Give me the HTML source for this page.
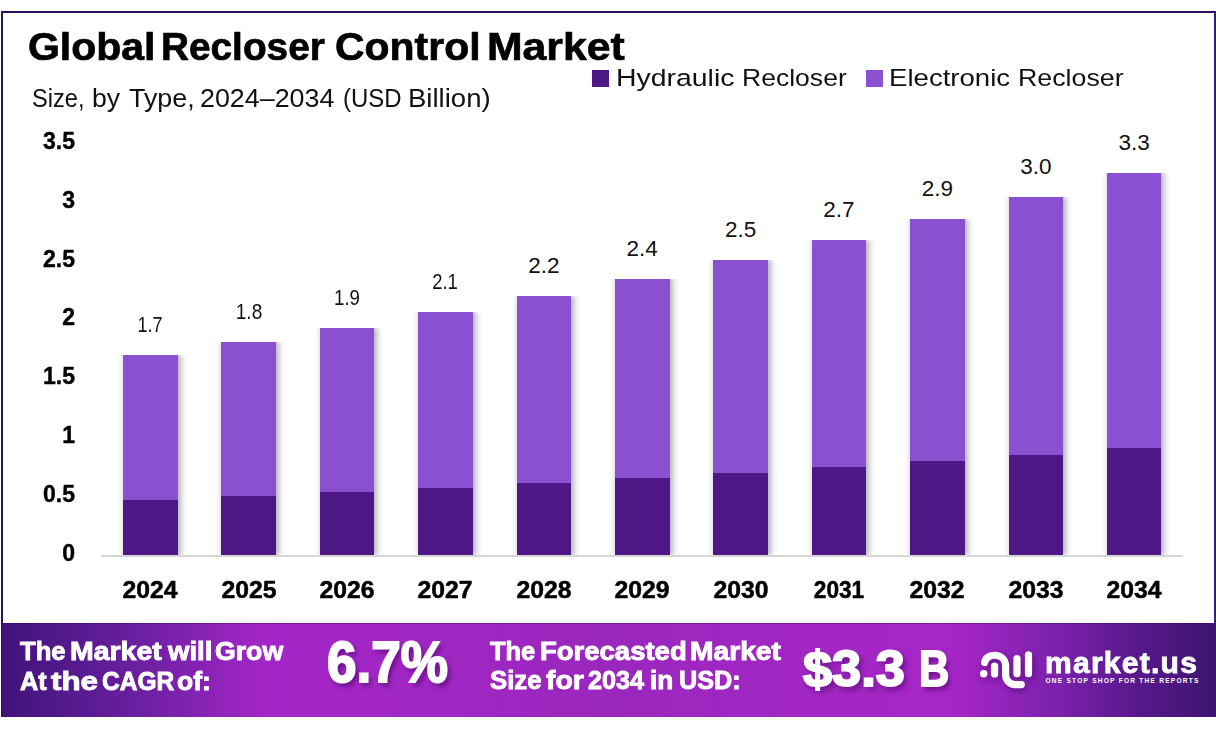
<!DOCTYPE html>
<html><head><meta charset="utf-8">
<style>
html,body{margin:0;padding:0;background:#fff;}
body{width:1216px;height:732px;position:relative;overflow:hidden;font-family:"Liberation Sans",sans-serif;}
.t,.tc,.tr{position:absolute;white-space:nowrap;}
.t{transform-origin:0 0;}
.tc{width:200px;text-align:center;transform-origin:50% 0;}
.tr{width:200px;text-align:right;transform-origin:100% 0;}
.logo{position:absolute;left:0;top:0;}
.frame{position:absolute;left:1px;top:11px;width:1215px;height:706px;border:2px solid #2c1060;border-right-color:#45168a;border-bottom:none;box-sizing:border-box;}
.sq{position:absolute;top:70px;width:17px;height:17px;}
.bar{position:absolute;background:#8b50d0;box-shadow:1.5px 0 6px 1px rgba(70,60,90,0.42);clip-path:inset(0 -12px 0 -12px);}
.dk{position:absolute;left:0;bottom:0;width:100%;background:#4e1786;}
.axis{position:absolute;left:101px;top:555px;width:1082px;height:2px;background:#d6d6d6;}
.banner{position:absolute;left:2px;top:623px;width:1214px;height:94px;box-shadow:inset 0 1px 0 rgba(50,10,90,0.35);background:linear-gradient(to right,#40137a 0%,#6a1fa0 11%,#a526c8 22%,#9a27bd 50%,#a826c8 78%,#8022b0 86%,#55188a 94%,#3e1470 100%);}
</style></head><body>
<div class="frame"></div>
<div class="sq" style="left:592px;background:#4e1786"></div>
<div class="sq" style="left:866px;background:#8b50d0"></div>
<div class="tr" style="left:-125.5px;top:538.5px;font-size:23.5px;font-weight:700;color:#000;line-height:28px;transform:scaleX(0.98);-webkit-text-stroke:0.4px #000;">0</div>
<div class="tr" style="left:-125.5px;top:479.7px;font-size:23.5px;font-weight:700;color:#000;line-height:28px;transform:scaleX(0.98);-webkit-text-stroke:0.4px #000;">0.5</div>
<div class="tr" style="left:-125.5px;top:420.9px;font-size:23.5px;font-weight:700;color:#000;line-height:28px;transform:scaleX(0.98);-webkit-text-stroke:0.4px #000;">1</div>
<div class="tr" style="left:-125.5px;top:362.1px;font-size:23.5px;font-weight:700;color:#000;line-height:28px;transform:scaleX(0.98);-webkit-text-stroke:0.4px #000;">1.5</div>
<div class="tr" style="left:-125.5px;top:303.3px;font-size:23.5px;font-weight:700;color:#000;line-height:28px;transform:scaleX(0.98);-webkit-text-stroke:0.4px #000;">2</div>
<div class="tr" style="left:-125.5px;top:244.5px;font-size:23.5px;font-weight:700;color:#000;line-height:28px;transform:scaleX(0.98);-webkit-text-stroke:0.4px #000;">2.5</div>
<div class="tr" style="left:-125.5px;top:185.7px;font-size:23.5px;font-weight:700;color:#000;line-height:28px;transform:scaleX(0.98);-webkit-text-stroke:0.4px #000;">3</div>
<div class="tr" style="left:-125.5px;top:126.9px;font-size:23.5px;font-weight:700;color:#000;line-height:28px;transform:scaleX(0.98);-webkit-text-stroke:0.4px #000;">3.5</div>
<div class="axis"></div>
<div class="bar" style="left:123.0px;top:355.0px;width:54.5px;height:200.0px"><div class="dk" style="height:55.0px"></div></div>
<div class="tc" style="left:50.2px;top:311.0px;font-size:22.5px;font-weight:400;color:#111;line-height:28px;transform:scaleX(0.8);">1.7</div>
<div class="tc" style="left:50.2px;top:576.3px;font-size:23.7px;font-weight:700;color:#000;line-height:28px;transform:scaleX(1.045);-webkit-text-stroke:0.5px #000;">2024</div>
<div class="bar" style="left:221.4px;top:342.0px;width:54.5px;height:213.0px"><div class="dk" style="height:59.0px"></div></div>
<div class="tc" style="left:148.6px;top:298.0px;font-size:22.5px;font-weight:400;color:#111;line-height:28px;transform:scaleX(0.85);">1.8</div>
<div class="tc" style="left:148.6px;top:576.3px;font-size:23.7px;font-weight:700;color:#000;line-height:28px;transform:scaleX(1.045);-webkit-text-stroke:0.5px #000;">2025</div>
<div class="bar" style="left:319.8px;top:328.0px;width:54.5px;height:227.0px"><div class="dk" style="height:63.0px"></div></div>
<div class="tc" style="left:247.0px;top:284.0px;font-size:22.5px;font-weight:400;color:#111;line-height:28px;transform:scaleX(0.83);">1.9</div>
<div class="tc" style="left:247.0px;top:576.3px;font-size:23.7px;font-weight:700;color:#000;line-height:28px;transform:scaleX(1.045);-webkit-text-stroke:0.5px #000;">2026</div>
<div class="bar" style="left:418.2px;top:312.0px;width:54.5px;height:243.0px"><div class="dk" style="height:67.0px"></div></div>
<div class="tc" style="left:345.4px;top:268.0px;font-size:22.5px;font-weight:400;color:#111;line-height:28px;transform:scaleX(0.82);">2.1</div>
<div class="tc" style="left:345.4px;top:576.3px;font-size:23.7px;font-weight:700;color:#000;line-height:28px;transform:scaleX(1.045);-webkit-text-stroke:0.5px #000;">2027</div>
<div class="bar" style="left:516.6px;top:296.0px;width:54.5px;height:259.0px"><div class="dk" style="height:72.0px"></div></div>
<div class="tc" style="left:443.8px;top:252.0px;font-size:22.5px;font-weight:400;color:#111;line-height:28px;transform:scaleX(1.0);">2.2</div>
<div class="tc" style="left:443.8px;top:576.3px;font-size:23.7px;font-weight:700;color:#000;line-height:28px;transform:scaleX(1.045);-webkit-text-stroke:0.5px #000;">2028</div>
<div class="bar" style="left:615.0px;top:279.0px;width:54.5px;height:276.0px"><div class="dk" style="height:77.0px"></div></div>
<div class="tc" style="left:542.2px;top:235.0px;font-size:22.5px;font-weight:400;color:#111;line-height:28px;transform:scaleX(1.0);">2.4</div>
<div class="tc" style="left:542.2px;top:576.3px;font-size:23.7px;font-weight:700;color:#000;line-height:28px;transform:scaleX(1.045);-webkit-text-stroke:0.5px #000;">2029</div>
<div class="bar" style="left:713.3px;top:260.0px;width:54.5px;height:295.0px"><div class="dk" style="height:82.0px"></div></div>
<div class="tc" style="left:640.6px;top:216.0px;font-size:22.5px;font-weight:400;color:#111;line-height:28px;transform:scaleX(1.0);">2.5</div>
<div class="tc" style="left:640.6px;top:576.3px;font-size:23.7px;font-weight:700;color:#000;line-height:28px;transform:scaleX(1.045);-webkit-text-stroke:0.5px #000;">2030</div>
<div class="bar" style="left:811.7px;top:240.0px;width:54.5px;height:315.0px"><div class="dk" style="height:88.0px"></div></div>
<div class="tc" style="left:739.0px;top:196.0px;font-size:22.5px;font-weight:400;color:#111;line-height:28px;transform:scaleX(1.0);">2.7</div>
<div class="tc" style="left:739.0px;top:576.3px;font-size:23.7px;font-weight:700;color:#000;line-height:28px;transform:scaleX(0.956);-webkit-text-stroke:0.5px #000;">2031</div>
<div class="bar" style="left:910.1px;top:219.0px;width:54.5px;height:336.0px"><div class="dk" style="height:94.0px"></div></div>
<div class="tc" style="left:837.4px;top:175.0px;font-size:22.5px;font-weight:400;color:#111;line-height:28px;transform:scaleX(1.0);">2.9</div>
<div class="tc" style="left:837.4px;top:576.3px;font-size:23.7px;font-weight:700;color:#000;line-height:28px;transform:scaleX(1.045);-webkit-text-stroke:0.5px #000;">2032</div>
<div class="bar" style="left:1008.5px;top:197.0px;width:54.5px;height:358.0px"><div class="dk" style="height:100.0px"></div></div>
<div class="tc" style="left:935.8px;top:153.0px;font-size:22.5px;font-weight:400;color:#111;line-height:28px;transform:scaleX(1.0);">3.0</div>
<div class="tc" style="left:935.8px;top:576.3px;font-size:23.7px;font-weight:700;color:#000;line-height:28px;transform:scaleX(1.045);-webkit-text-stroke:0.5px #000;">2033</div>
<div class="bar" style="left:1106.9px;top:173.0px;width:54.5px;height:382.0px"><div class="dk" style="height:107.0px"></div></div>
<div class="tc" style="left:1034.2px;top:129.0px;font-size:22.5px;font-weight:400;color:#111;line-height:28px;transform:scaleX(1.0);">3.3</div>
<div class="tc" style="left:1034.2px;top:576.3px;font-size:23.7px;font-weight:700;color:#000;line-height:28px;transform:scaleX(1.045);-webkit-text-stroke:0.5px #000;">2034</div>
<div class="banner"></div>
<div class="t" style="left:28.45px;top:23.10px;font-size:39px;font-weight:700;color:#000;line-height:47px;transform:scaleX(1.0506);-webkit-text-stroke:0.7px #000;">Global</div>
<div class="t" style="left:161.41px;top:23.10px;font-size:39px;font-weight:700;color:#000;line-height:47px;transform:scaleX(0.9940);-webkit-text-stroke:0.7px #000;">Recloser</div>
<div class="t" style="left:335.35px;top:23.10px;font-size:39px;font-weight:700;color:#000;line-height:47px;transform:scaleX(1.0501);-webkit-text-stroke:0.7px #000;">Control</div>
<div class="t" style="left:486.61px;top:23.10px;font-size:39px;font-weight:700;color:#000;line-height:47px;transform:scaleX(1.0959);-webkit-text-stroke:0.7px #000;">Market</div>
<div class="t" style="left:31.56px;top:82.80px;font-size:25px;font-weight:400;color:#111;line-height:30px;transform:scaleX(0.9443);">Size,</div>
<div class="t" style="left:92.03px;top:82.80px;font-size:25px;font-weight:400;color:#111;line-height:30px;transform:scaleX(1.0655);">by</div>
<div class="t" style="left:129.20px;top:82.80px;font-size:25px;font-weight:400;color:#111;line-height:30px;transform:scaleX(1.0743);">Type,</div>
<div class="t" style="left:199.53px;top:82.80px;font-size:25px;font-weight:400;color:#111;line-height:30px;transform:scaleX(1.0738);">2024&#8211;2034</div>
<div class="t" style="left:343.04px;top:82.80px;font-size:25px;font-weight:400;color:#111;line-height:30px;transform:scaleX(0.9584);">(USD</div>
<div class="t" style="left:408.20px;top:82.80px;font-size:25px;font-weight:400;color:#111;line-height:30px;transform:scaleX(1.1018);">Billion)</div>
<div class="t" style="left:616.28px;top:62.80px;font-size:24.5px;font-weight:400;color:#111;line-height:29px;transform:scaleX(1.1596);">Hydraulic</div>
<div class="t" style="left:741.83px;top:62.80px;font-size:24.5px;font-weight:400;color:#111;line-height:29px;transform:scaleX(1.0834);">Recloser</div>
<div class="t" style="left:889.05px;top:62.80px;font-size:24.5px;font-weight:400;color:#111;line-height:29px;transform:scaleX(1.1261);">Electronic</div>
<div class="t" style="left:1017.62px;top:62.80px;font-size:24.5px;font-weight:400;color:#111;line-height:29px;transform:scaleX(1.0919);">Recloser</div>
<div class="t" style="left:20.10px;top:635.70px;font-size:26px;font-weight:700;color:#fff;line-height:31px;transform:scaleX(0.9855);-webkit-text-stroke:0.9px #fff;">The</div>
<div class="t" style="left:70.31px;top:635.70px;font-size:26px;font-weight:700;color:#fff;line-height:31px;transform:scaleX(1.0943);-webkit-text-stroke:0.9px #fff;">Market</div>
<div class="t" style="left:168.06px;top:635.70px;font-size:26px;font-weight:700;color:#fff;line-height:31px;transform:scaleX(1.0607);-webkit-text-stroke:0.9px #fff;">will</div>
<div class="t" style="left:215.47px;top:635.70px;font-size:26px;font-weight:700;color:#fff;line-height:31px;transform:scaleX(1.0253);-webkit-text-stroke:0.9px #fff;">Grow</div>
<div class="t" style="left:20.10px;top:665.80px;font-size:26px;font-weight:700;color:#fff;line-height:31px;transform:scaleX(0.9756);-webkit-text-stroke:0.9px #fff;">At</div>
<div class="t" style="left:51.40px;top:665.80px;font-size:26px;font-weight:700;color:#fff;line-height:31px;transform:scaleX(1.2065);-webkit-text-stroke:0.9px #fff;">the</div>
<div class="t" style="left:101.56px;top:665.80px;font-size:26px;font-weight:700;color:#fff;line-height:31px;transform:scaleX(0.9422);-webkit-text-stroke:0.9px #fff;">CAGR</div>
<div class="t" style="left:177.48px;top:665.80px;font-size:26px;font-weight:700;color:#fff;line-height:31px;transform:scaleX(1.0183);-webkit-text-stroke:0.9px #fff;">of:</div>
<div class="t" style="left:489.50px;top:636.10px;font-size:26px;font-weight:700;color:#fff;line-height:31px;transform:scaleX(0.9789);-webkit-text-stroke:0.9px #fff;">The</div>
<div class="t" style="left:539.54px;top:636.10px;font-size:26px;font-weight:700;color:#fff;line-height:31px;transform:scaleX(1.0574);-webkit-text-stroke:0.9px #fff;">Forecasted</div>
<div class="t" style="left:689.72px;top:636.10px;font-size:26px;font-weight:700;color:#fff;line-height:31px;transform:scaleX(1.0847);-webkit-text-stroke:0.9px #fff;">Market</div>
<div class="t" style="left:803.30px;top:639.00px;font-size:49.5px;font-weight:700;color:#fff;line-height:59px;transform:scaleX(1.0558);text-shadow:3px 4px 6px rgba(60,0,90,0.6);-webkit-text-stroke:2px #fff;">$3.3</div>
<div class="t" style="left:919.36px;top:639.00px;font-size:49.5px;font-weight:700;color:#fff;line-height:59px;transform:scaleX(0.8452);text-shadow:3px 4px 6px rgba(60,0,90,0.6);-webkit-text-stroke:2px #fff;">B</div>
<div class="t" style="left:489.50px;top:665.40px;font-size:26px;font-weight:700;color:#fff;line-height:31px;transform:scaleX(0.9910);-webkit-text-stroke:0.9px #fff;">Size</div>
<div class="t" style="left:545.70px;top:665.40px;font-size:26px;font-weight:700;color:#fff;line-height:31px;transform:scaleX(1.0915);-webkit-text-stroke:0.9px #fff;">for</div>
<div class="t" style="left:588.40px;top:665.40px;font-size:26px;font-weight:700;color:#fff;line-height:31px;transform:scaleX(0.9695);-webkit-text-stroke:0.9px #fff;">2034</div>
<div class="t" style="left:650.29px;top:665.40px;font-size:26px;font-weight:700;color:#fff;line-height:31px;transform:scaleX(1.0083);-webkit-text-stroke:0.9px #fff;">in</div>
<div class="t" style="left:679.33px;top:665.40px;font-size:26px;font-weight:700;color:#fff;line-height:31px;transform:scaleX(0.9705);-webkit-text-stroke:0.9px #fff;">USD:</div>
<div class="t" style="left:327px;top:629px;font-size:57px;font-weight:700;color:#fff;line-height:66px;transform:scaleX(0.932);text-shadow:3px 4px 6px rgba(60,0,90,0.6);-webkit-text-stroke:2px #fff;">6.7%</div>
<div class="t" style="left:1045px;top:645px;font-size:29.5px;font-weight:700;color:#fff;line-height:36px;transform:scaleX(1.02);-webkit-text-stroke:0.8px #fff;letter-spacing:1.2px;">market.us</div>
<div class="t" style="left:1045.5px;top:676.5px;font-size:6.6px;font-weight:700;color:#fff;line-height:8px;transform:scaleX(1.0);letter-spacing:1.22px;">ONE STOP SHOP FOR THE REPORTS</div>
<svg class="logo" width="1216" height="732" viewBox="0 0 1216 732" style="filter:drop-shadow(2px 3px 3px rgba(50,0,80,0.45))">
<g fill="none" stroke="#fff" stroke-width="7.2" stroke-linecap="round" stroke-linejoin="round">
<path d="M984.6 662.5 C986 652.3 1005.6 652.3 1005.6 666 L1005.6 675 A9.6 9.6 0 0 0 1015.2 684.6 L1021.3 684.6"/>
<path d="M994.6 666 L994.6 673.9"/>
<path d="M1017 658.5 L1017 673.7"/>
<path d="M1028.5 654.8 L1028.5 673.7"/>
</g>
<circle cx="983.7" cy="673.8" r="3.7" fill="#fff"/>
</svg>
</body></html>
